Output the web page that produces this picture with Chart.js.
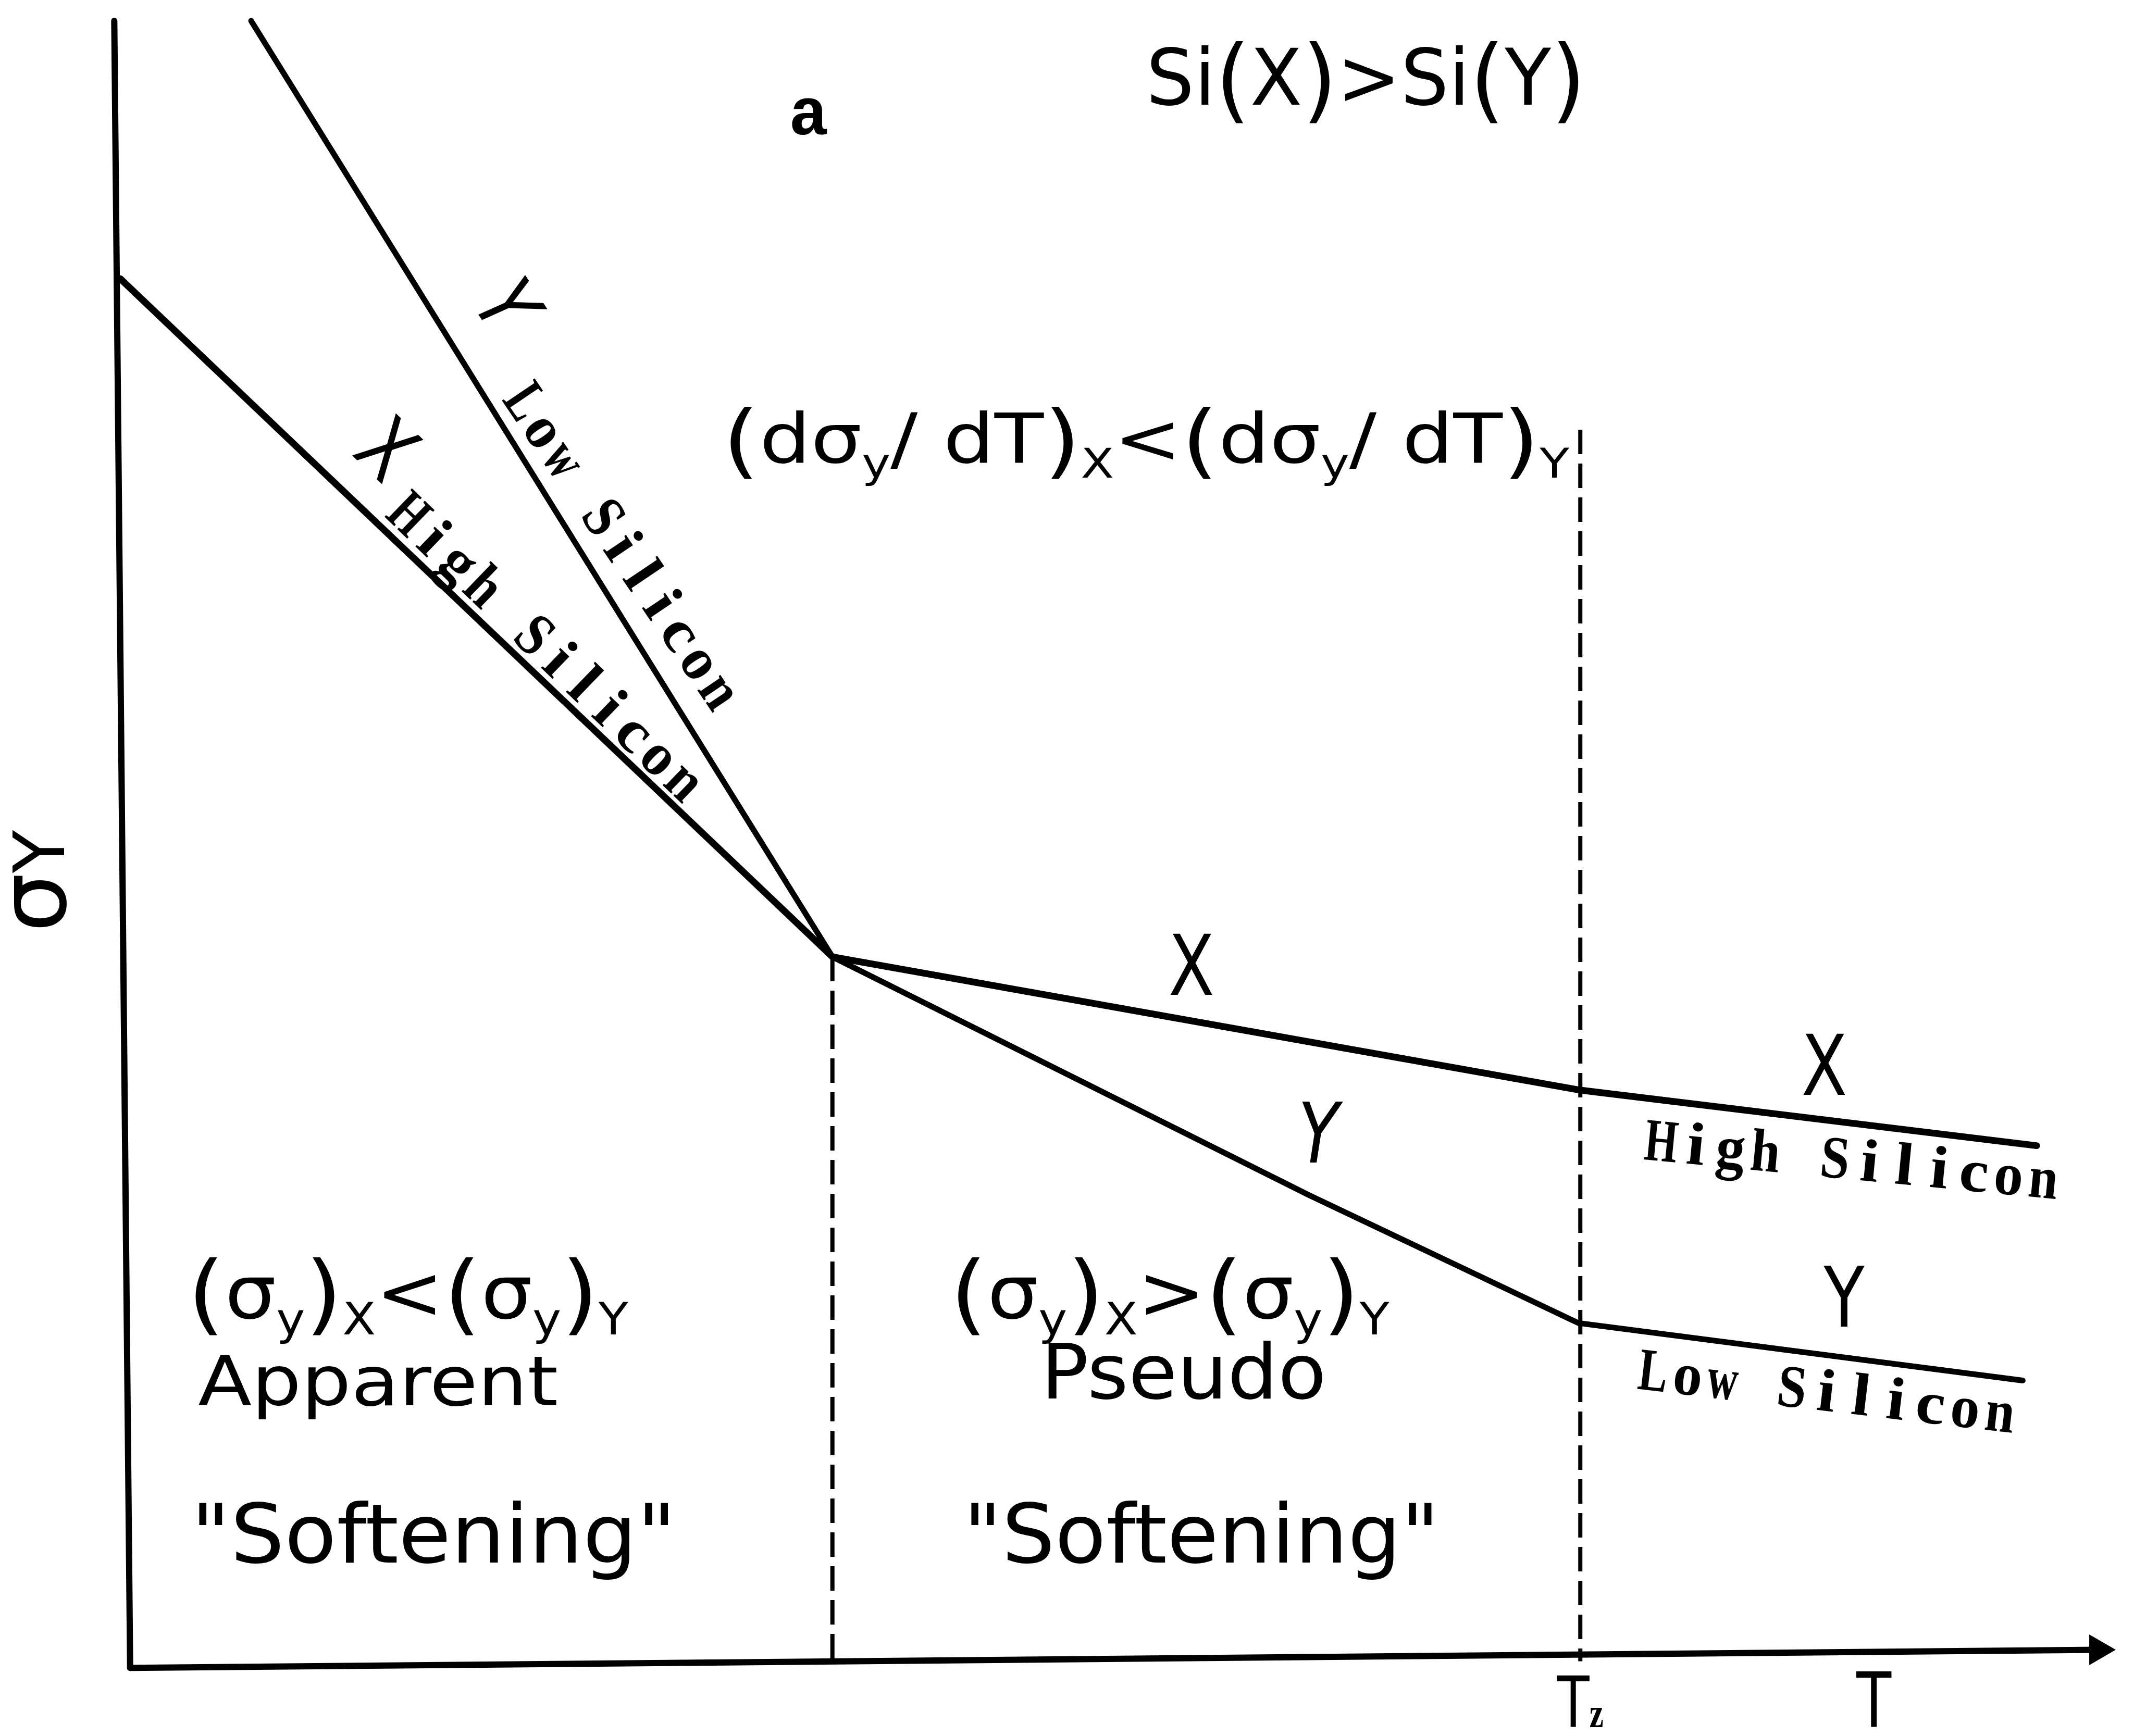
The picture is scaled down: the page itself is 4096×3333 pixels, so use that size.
<!DOCTYPE html>
<html>
<head>
<meta charset="utf-8">
<title>Yield stress vs temperature</title>
<script src="https://cdn.jsdelivr.net/npm/chart.js@4.4.0/dist/chart.umd.min.js"></script>
<style>
  html, body { margin: 0; padding: 0; background: #fff; }
  canvas { display: block; }
</style>
</head>
<body>
<canvas id="chart" width="4096" height="3333"></canvas>
<script>
// Schematic curves, T and sigma in arbitrary units
const highSiT = [-0.05, 3.54, 7.30, 9.61];
const highSiSigma = [8.42, 4.29, 3.48, 3.14];
const lowSiT = [0.61, 3.54, 5.94, 7.30, 9.54];
const lowSiSigma = [9.99, 4.29, 2.84, 2.06, 1.71];

// vertical markers: onset of softening and Tz
const markerT = [3.54, 7.31];
const markerTop = [4.29, 7.50];

// hand drawn axes (slightly skewed in the original figure)
const yAxisT = [-0.08, 0.00];
const yAxisSigma = [9.99, -0.04];
const xAxisT = [0.00, 9.92];
const xAxisSigma = [-0.04, 0.07];

const tickLabels = ["T", "z"];

const SANS = '"DejaVu Sans"';
const SERIF = '"Liberation Serif"';
const MONO = '"Liberation Mono"';

const pts = (xs, ys) => xs.map((x, i) => ({ x: x, y: ys[i] }));

// text pieces: plain, subscript, and the tall brackets of the lettering set
const txt = (t) => ({ t: t });
const sub = (t) => ({ t: t, s: 0.6, dy: 0.22 });
const P = (t) => ({ t: t, s: 1.18, dy: 0.08 });

const dsigma = [P("("), txt("dσ"), sub("y"), txt("/ dT"), P(")"), sub("X"), txt("<"),
  P("("), txt("dσ"), sub("y"), txt("/ dT"), P(")"), sub("Y")];
const sigmaCmp = (op) => [P("("), txt("σ"), sub("y"), P(")"), sub("X"), txt(op),
  P("("), txt("σ"), sub("y"), P(")"), sub("Y")];

// typewriter captions along the curves
const tw = { size: 116, font: SERIF, weight: "bold", mono: 67, base: "middle" };

// text annotations, placed in data units
const labels = [
  { text: "a", T: 3.42, S: 9.30, size: 128, font: MONO, weight: "bold" },
  { text: [txt("Si"), P("("), txt("X"), P(")"), txt(">Si"), P("("), txt("Y"), P(")")],
    T: 6.23, S: 9.48, size: 150, font: SANS, width: 844 },
  { text: dsigma, T: 5.12, S: 7.30, size: 132, font: SANS, width: 1625 },
  { text: sigmaCmp("<"), T: 1.40, S: 2.09, size: 142, font: SANS, width: 846 },
  { text: "Apparent", T: 1.25, S: 1.56, size: 131, font: SANS, width: 691 },
  { text: "\"Softening\"", T: 1.53, S: 0.60, size: 157, font: SANS, width: 931 },
  { text: sigmaCmp(">"), T: 5.24, S: 2.09, size: 142, font: SANS, width: 843 },
  { text: "Pseudo", T: 5.31, S: 1.60, size: 147, font: SANS, width: 548 },
  { text: "\"Softening\"", T: 5.40, S: 0.60, size: 157, font: SANS, width: 914 },

  { text: "X", T: 5.35, S: 4.19, size: 160, font: SANS, sx: 0.8, base: "middle" },
  { text: "Y", T: 5.99, S: 3.17, size: 160, font: SANS, sx: 0.8, base: "middle", style: "italic" },
  { text: "X", T: 8.54, S: 3.58, size: 160, font: SANS, sx: 0.8, base: "middle" },
  { text: "Y", T: 8.64, S: 2.17, size: 160, font: SANS, sx: 0.8, base: "middle" },
  { ...tw, text: "High Silicon", T: 8.68, S: 3.03, rot: 5.5 },
  { ...tw, text: "Low Silicon", T: 8.55, S: 1.62, rot: 6.7 },

  { text: "X", T: 1.27, S: 7.35, size: 160, font: SANS, sx: 0.8, rot: 44, base: "middle" },
  { ...tw, text: "High Silicon", T: 2.09, S: 6.16, rot: 44 },
  { text: "Y", T: 1.87, S: 8.23, size: 160, font: SANS, sx: 0.8, rot: 57, base: "middle", style: "italic" },
  { ...tw, text: "Low Silicon", T: 2.47, S: 6.78, rot: 56 },

  { text: tickLabels[0], T: 8.79, S: -0.40, size: 146, font: SANS, sx: 0.75 },
  { text: [txt(tickLabels[0]), { t: tickLabels[1], s: 0.6, f: SERIF, w: "bold" }],
    T: markerT[1], S: -0.40, size: 135, font: SANS, sx: 0.75 },
  { text: [txt("σ"), { t: "Y", s: 0.75, dy: 0.05 }], T: -0.45, S: 4.75, size: 180, font: SANS, rot: -90, base: "middle" }
];

function drawLabel(ctx, lab, px, py) {
  const segs = typeof lab.text === "string" ? [{ t: lab.text }] : lab.text;
  let total = 0;
  const parts = segs.map((sg) => {
    const size = lab.size * (sg.s || 1);
    const font = `${lab.style || ""} ${sg.w || lab.weight || "normal"} ${size}px ${sg.f || lab.font}`;
    ctx.font = font;
    const w = lab.mono ? lab.mono * sg.t.length : ctx.measureText(sg.t).width;
    total += w;
    return { sg, font, w };
  });
  let sx = lab.sx || 1;
  if (lab.width) sx = lab.width / total;

  ctx.save();
  ctx.translate(px, py);
  if (lab.rot) ctx.rotate((lab.rot * Math.PI) / 180);
  ctx.scale(sx, 1);
  ctx.fillStyle = "#000";
  ctx.textBaseline = lab.base || "alphabetic";
  let x = -total / 2;
  parts.forEach((p) => {
    ctx.font = p.font;
    const dy = (p.sg.dy || 0) * lab.size;
    if (lab.mono) {
      // one glyph per fixed cell; wide glyphs are squeezed to fit it
      ctx.textAlign = "center";
      [...p.sg.t].forEach((ch, i) => {
        if (ch === " ") return;
        const gw = ctx.measureText(ch).width;
        const g = Math.max(0.7, Math.min(1.1, (0.84 * lab.mono) / gw));
        ctx.save();
        ctx.translate(x + lab.mono * (i + 0.5), dy);
        ctx.scale(g, 1);
        ctx.fillText(ch, 0, 0);
        ctx.restore();
      });
    } else {
      ctx.textAlign = "left";
      ctx.fillText(p.sg.t, x, dy);
    }
    x += p.w;
  });
  ctx.restore();
}

const labelPlugin = {
  id: "labels",
  afterDatasetsDraw(chart) {
    const { ctx, scales } = chart;
    labels.forEach((lab) => {
      drawLabel(ctx, lab, scales.x.getPixelForValue(lab.T), scales.y.getPixelForValue(lab.S));
    });
  }
};

const solid = (data, width) => ({
  data: data,
  borderColor: "#000",
  borderWidth: width,
  pointRadius: 0,
  fill: false,
  tension: 0,
  borderCapStyle: "round",
  borderJoinStyle: "round"
});

const dashed = (i) => ({
  data: [{ x: markerT[i], y: markerTop[i] }, { x: markerT[i], y: 0 }],
  borderColor: "#000",
  borderWidth: 8,
  borderDash: [47, 18],
  pointRadius: 0,
  fill: false
});

new Chart(document.getElementById("chart"), {
  type: "line",
  data: {
    datasets: [
      solid(pts(yAxisT, yAxisSigma), 12),
      solid(pts(xAxisT, xAxisSigma), 12),
      {
        // arrow head on the T axis
        data: [{ x: xAxisT[1], y: xAxisSigma[1] }],
        pointStyle: "triangle",
        rotation: 90,
        pointRadius: 32,
        pointBackgroundColor: "#000",
        pointBorderColor: "#000",
        pointBorderWidth: 2,
        showLine: false
      },
      dashed(0),
      dashed(1),
      solid(pts(highSiT, highSiSigma), 13),
      solid(pts(lowSiT, lowSiSigma), 11)
    ]
  },
  options: {
    responsive: false,
    animation: false,
    devicePixelRatio: 1,
    layout: { padding: 0, autoPadding: false },
    plugins: { legend: { display: false }, tooltip: { enabled: false } },
    scales: {
      x: { type: "linear", min: -0.656, max: 10.101, display: false },
      y: { type: "linear", min: -0.455, max: 10.117, display: false }
    }
  },
  plugins: [labelPlugin]
});
</script>
</body>
</html>
